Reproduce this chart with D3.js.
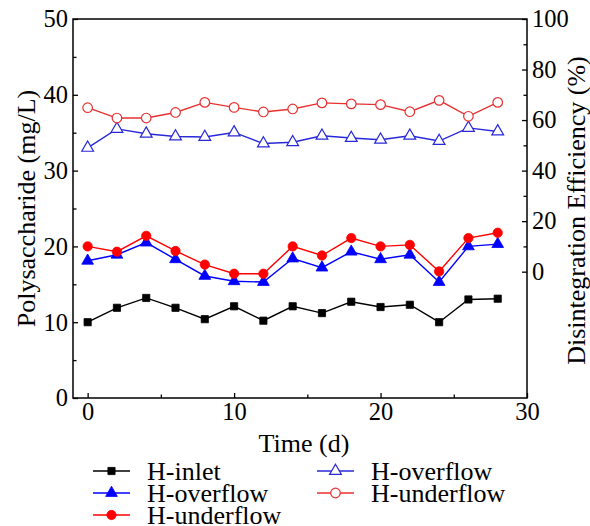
<!DOCTYPE html>
<html>
<head>
<meta charset="utf-8">
<script src="https://cdn.jsdelivr.net/npm/d3@7"></script>
<style>
  body { margin: 0; background: #fff; }
  svg text { font-family: "Liberation Serif", "Times New Roman", serif; fill: #000; }
</style>
</head>
<body>
<svg id="chart" width="590" height="526"></svg>
<script>
// sampling days
const days = [0, 2, 4, 6, 8, 10, 12, 14, 16, 18, 20, 22, 24, 26, 28];

// polysaccharide (mg/L), left axis
const inlet = [10.0, 11.9, 13.2, 11.9, 10.4, 12.1, 10.2, 12.1, 11.2, 12.7, 12.0, 12.3, 10.0, 13.0, 13.1];
const overflow = [18.1, 18.9, 20.5, 18.3, 16.1, 15.4, 15.3, 18.4, 17.2, 19.3, 18.3, 18.9, 15.3, 20.0, 20.3];
const underflow = [20.0, 19.3, 21.4, 19.4, 17.6, 16.4, 16.4, 20.0, 18.8, 21.1, 20.0, 20.2, 16.7, 21.1, 21.8];

// disintegration efficiency (%), right axis
const effOverflow = [49.0, 56.5, 54.6, 53.5, 53.3, 55.1, 50.7, 51.2, 53.8, 52.9, 52.2, 53.8, 51.7, 56.9, 55.5];
const effUnderflow = [64.9, 60.8, 60.8, 63.0, 67.0, 65.0, 63.2, 64.4, 66.8, 66.4, 66.1, 63.3, 67.8, 61.5, 67.0];

const xTicks = [0, 10, 20, 30];
const leftTicks = [0, 10, 20, 30, 40, 50];
const rightTicks = [0, 20, 40, 60, 80, 100];

const svg = d3.select("#chart");
const pLeft = 73, pRight = 527, pTop = 19, pBottom = 398;

const x = d3.scaleLinear().domain([-1, 30]).range([pLeft, pRight]);
const yL = d3.scaleLinear().domain([0, 50]).range([pBottom, pTop]);
const yR = d3.scaleLinear().domain([-50, 100]).range([pBottom, pTop]);

// minor ticks
svg.append("g")
  .attr("transform", "translate(0," + pBottom + ")")
  .call(d3.axisBottom(x).tickValues(d3.range(5, 30, 10)).tickSize(-3.5).tickFormat(""))
  .call(g => g.select(".domain").remove());
svg.append("g")
  .attr("transform", "translate(" + pLeft + ",0)")
  .call(d3.axisLeft(yL).tickValues(d3.range(5, 50, 10)).tickSize(-3.5).tickFormat(""))
  .call(g => g.select(".domain").remove());
svg.append("g")
  .attr("transform", "translate(" + pRight + ",0)")
  .call(d3.axisRight(yR).tickValues(d3.range(10, 100, 20)).tickSize(-3.5).tickFormat(""))
  .call(g => g.select(".domain").remove());

// major ticks + labels
const xAxis = svg.append("g")
  .attr("transform", "translate(0," + pBottom + ")")
  .call(d3.axisBottom(x).tickValues(xTicks).tickSize(-5).tickPadding(5));
const lAxis = svg.append("g")
  .attr("transform", "translate(" + pLeft + ",0)")
  .call(d3.axisLeft(yL).tickValues(leftTicks).tickSize(-5).tickPadding(5));
const rAxis = svg.append("g")
  .attr("transform", "translate(" + pRight + ",0)")
  .call(d3.axisRight(yR).tickValues(rightTicks).tickSize(-5).tickPadding(5));

[xAxis, lAxis, rAxis].forEach(a => {
  a.select(".domain").remove();
  a.selectAll("text").style("font-size", "24.5px").style("font-family", "Liberation Serif, serif");
});
svg.selectAll(".tick line").attr("stroke", "#000").attr("stroke-width", 1.3);

// frame
svg.append("rect")
  .attr("x", pLeft).attr("y", pTop)
  .attr("width", pRight - pLeft).attr("height", pBottom - pTop)
  .attr("fill", "none").attr("stroke", "#000").attr("stroke-width", 1.5);

// axis titles
svg.append("text")
  .attr("transform", "translate(35," + ((pTop + pBottom) / 2) + ") rotate(-90)")
  .attr("text-anchor", "middle")
  .style("font-size", "26px")
  .text("Polysaccharide (mg/L)");
svg.append("text")
  .attr("transform", "translate(585," + ((pTop + pBottom) / 2 + 2) + ") rotate(-90)")
  .attr("text-anchor", "middle")
  .style("font-size", "26px")
  .text("Disintegration Efficiency (%)");
svg.append("text")
  .attr("x", 304).attr("y", 452)
  .attr("text-anchor", "middle")
  .style("font-size", "26px")
  .text("Time (d)");

const series = [
  { name: "H-inlet", values: inlet, y: yL, color: "#000", shape: d3.symbolSquare, size: 52, fill: true },
  { name: "H-overflow", values: overflow, y: yL, color: "#0000ff", shape: d3.symbolTriangle, size: 60, fill: true },
  { name: "H-underflow", values: underflow, y: yL, color: "#ff0000", shape: d3.symbolCircle, size: 68, fill: true },
  { name: "H-overflow", values: effOverflow, y: yR, color: "#2828d8", shape: d3.symbolTriangle, size: 60, fill: false },
  { name: "H-underflow", values: effUnderflow, y: yR, color: "#e83030", shape: d3.symbolCircle, size: 72, fill: false }
];

function marker(g, s) {
  g.attr("d", d3.symbol().type(s.shape).size(s.size))
    .attr("fill", s.fill ? s.color : "#fff")
    .attr("stroke", s.color)
    .attr("stroke-width", s.fill ? 0.8 : 1.2);
}

series.forEach(s => {
  const line = d3.line()
    .x((d, i) => x(days[i]))
    .y(d => s.y(d));
  svg.append("path")
    .datum(s.values)
    .attr("d", line)
    .attr("fill", "none")
    .attr("stroke", s.color)
    .attr("stroke-width", 1.4);
  svg.append("g").selectAll("path")
    .data(s.values)
    .enter().append("path")
    .attr("transform", (d, i) => "translate(" + x(days[i]) + "," + s.y(d) + ")")
    .call(marker, s);
});

// legend, two columns
const legendPos = [
  [93, 471], [93, 493], [93, 515], [317, 471], [317, 493]
];
series.forEach((s, i) => {
  const [lx, ly] = legendPos[i];
  const g = svg.append("g").attr("transform", "translate(" + lx + "," + ly + ")");
  g.append("line")
    .attr("x1", 0).attr("x2", 37)
    .attr("y1", 0).attr("y2", 0)
    .attr("stroke", s.color).attr("stroke-width", 1.4);
  g.append("path")
    .attr("transform", "translate(18.5,0)")
    .call(marker, s);
  g.append("text")
    .attr("x", 54).attr("y", 8.5)
    .style("font-size", "26px")
    .text(s.name);
});
</script>
</body>
</html>
